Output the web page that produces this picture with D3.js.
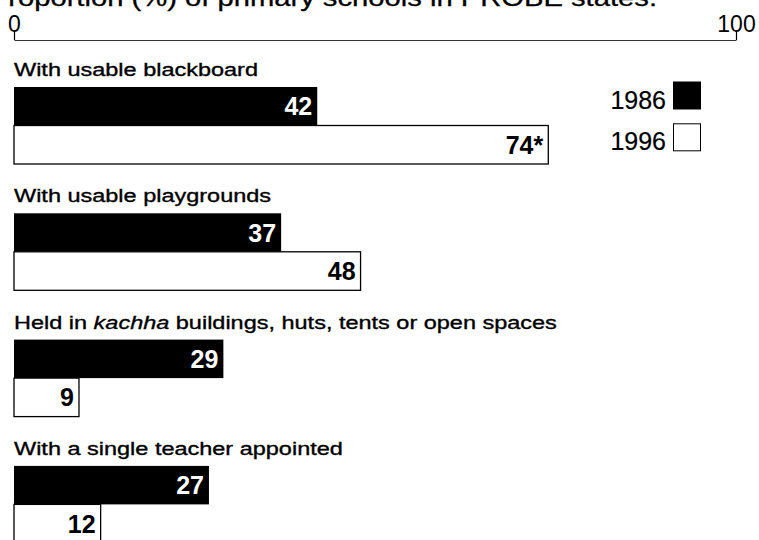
<!DOCTYPE html>
<html>
<head>
<meta charset="utf-8">
<script src="https://cdn.jsdelivr.net/npm/d3@7"></script>
<style>
  html, body { margin: 0; padding: 0; background: #fff; }
  svg { display: block; }
  text { font-family: "Liberation Sans", Arial, sans-serif; fill: #000; }
</style>
</head>
<body>
<svg id="chart" width="759" height="540"></svg>
<script>
// ---- data ----
const title = "Proportion (%) of primary schools in PROBE states:";
const categories = [
  "With usable blackboard",
  "With usable playgrounds",
  "Held in kachha buildings, huts, tents or open spaces",
  "With a single teacher appointed"
];
const italicWords = ["", "", "kachha", ""];
const years = ["1986", "1996"];
const values1986 = [42, 37, 29, 27];
const values1996 = [74, 48, 9, 12];
const notes1996 = ["*", "", "", ""];
const axisTicks = [0, 100];

// ---- layout ----
const stretch = 1.27;
const svg = d3.select("#chart");

const x = d3.scaleLinear().domain([0, 100]).range([14, 736]);
const groupStep = 126.3;
const yGroup = d3.scaleBand().domain(categories)
  .range([87, 87 + groupStep * categories.length]).paddingInner(0).paddingOuter(0);
const yBar = d3.scaleBand().domain(years).range([0, 77]).padding(0);
const fills = { "1986": "#000", "1996": "#fff" };
const labelFill = { "1986": "#fff", "1996": "#000" };

// title (cut off at top like the reference)
svg.append("g")
  .attr("transform", `translate(657,6) scale(${stretch},1)`)
  .append("text")
  .attr("text-anchor", "end")
  .attr("font-size", 23)
  .attr("stroke", "#000").attr("stroke-width", 0.3)
  .text(title);

// axis
const axis = d3.axisTop(x).tickValues(axisTicks).tickFormat(d3.format("d"))
  .tickSizeInner(8).tickSizeOuter(0).tickPadding(0);
const gAxis = svg.append("g").attr("transform", "translate(0,40)").call(axis);
gAxis.select(".domain").attr("stroke", "#333").attr("stroke-width", 1);
gAxis.selectAll(".tick line").attr("stroke", "#000").attr("stroke-width", 1.2);
gAxis.selectAll(".tick text")
  .attr("font-size", 23)
  .attr("font-family", "\"Liberation Sans\", Arial, sans-serif")
  .attr("fill", "#000");

// groups
const rows = categories.map((c, i) => ({
  cat: c, italic: italicWords[i],
  bars: [
    { year: years[0], v: values1986[i], label: String(values1986[i]) },
    { year: years[1], v: values1996[i], label: String(values1996[i]) + notes1996[i] }
  ]
}));

const g = svg.selectAll("g.group").data(rows).join("g")
  .attr("class", "group")
  .attr("transform", d => `translate(0,${yGroup(d.cat)})`);

// category labels
g.each(function(d) {
  const lab = d3.select(this).append("g")
    .attr("transform", `translate(14,-11) scale(${stretch},1)`)
    .append("text").attr("font-size", 18.5)
    .attr("stroke", "#000").attr("stroke-width", 0.35);
  if (d.italic) {
    const parts = d.cat.split(d.italic);
    lab.append("tspan").text(parts[0]);
    lab.append("tspan").attr("font-style", "italic").text(d.italic);
    lab.append("tspan").text(parts[1]);
  } else {
    lab.text(d.cat);
  }
});

// bars
const bars = g.selectAll("g.bar").data(d => d.bars).join("g").attr("class", "bar");
bars.append("rect")
  .attr("x", x(0))
  .attr("y", d => yBar(d.year))
  .attr("width", d => x(d.v) - x(0))
  .attr("height", yBar.bandwidth())
  .attr("fill", d => fills[d.year])
  .attr("stroke", "#000")
  .attr("stroke-width", d => d.year === "1986" ? 0 : 1.3);

bars.append("text")
  .attr("x", d => x(d.v) - 5)
  .attr("y", d => yBar(d.year) + yBar.bandwidth() / 2 + 9)
  .attr("text-anchor", "end")
  .attr("font-size", 25)
  .attr("font-weight", "bold")
  .style("fill", d => labelFill[d.year])
  .text(d => d.label);

// legend
const legY = d3.scaleBand().domain(years).range([82, 154]).paddingInner(10 / 36);
const leg = svg.selectAll("g.leg").data(years).join("g").attr("class", "leg");
leg.append("rect")
  .attr("x", 673.5).attr("y", d => legY(d))
  .attr("width", 27).attr("height", 27)
  .attr("fill", d => fills[d]).attr("stroke", "#000").attr("stroke-width", 1);
leg.append("text")
  .attr("x", 666).attr("y", d => legY(d) + 26.5)
  .attr("text-anchor", "end").attr("font-size", 25)
  .attr("stroke", "#000").attr("stroke-width", 0.2)
  .text(d => d);
</script>
</body>
</html>
